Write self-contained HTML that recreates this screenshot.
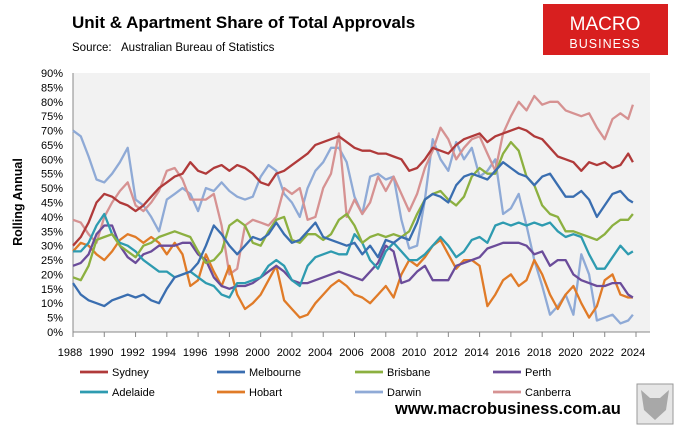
<!DOCTYPE html>
<html><head><meta charset="utf-8"><style>
body{margin:0;background:#fff;font-family:"Liberation Sans",sans-serif;}
#wrap{position:relative;width:677px;height:427px;overflow:hidden;}
</style></head><body>
<div id="wrap">
<svg id="chart" width="677" height="427" xmlns="http://www.w3.org/2000/svg">
  <text x="72" y="28" font-size="17" font-weight="bold" fill="#000">Unit &amp; Apartment Share of Total Approvals</text>
  <text x="72" y="51" font-size="11.5" fill="#000">Source:</text>
  <text x="121" y="51" font-size="11.5" fill="#000">Australian Bureau of Statistics</text>
  <g>
    <rect x="543" y="4" width="125" height="51" fill="#d81f1f"/>
    <text x="605" y="30" font-size="19" fill="#fff" text-anchor="middle">MACRO</text>
    <text x="605" y="48" font-size="12.5" fill="#fff" text-anchor="middle" letter-spacing="1">BUSINESS</text>
  </g>
  <rect x="73" y="73" width="577" height="259" fill="#f2f2f2"/>
  <text transform="translate(22,202) rotate(-90)" font-size="12.5" font-weight="bold" text-anchor="middle">Rolling Annual</text>
  <g id="yticks"></g><g id="xticks"></g><g id="series"></g><g id="legend"></g>
  <text x="395" y="414" font-size="16.5" font-weight="bold" fill="#000">www.macrobusiness.com.au</text>
  <g>
    <rect x="637" y="384" width="36" height="40" fill="#e6e6e6" stroke="#999"/>
    <path d="M641 390 L650 398 L660 398 L669 390 L666 410 L655 420 L644 410 Z" fill="#a8a8a8"/>
  </g>
</svg>
</div>
<script>
const seriesNames = ["Sydney","Melbourne","Brisbane","Perth","Adelaide","Hobart","Darwin","Canberra"];
const seriesColors = ["#b03a3a","#3a6eb0","#8cb040","#6b4c9a","#2e9bb0","#e07b28","#8faad6","#d69292"];
const yTickLabels = ["0%","5%","10%","15%","20%","25%","30%","35%","40%","45%","50%","55%","60%","65%","70%","75%","80%","85%","90%"];
const yTickValues = [0,5,10,15,20,25,30,35,40,45,50,55,60,65,70,75,80,85,90];
const xTickYears = [1988,1990,1992,1994,1996,1998,2000,2002,2004,2006,2008,2010,2012,2014,2016,2018,2020,2022,2024];
const startYear = 1988;
const endYear = 2023.8;
const sydney = [30,33,38,45,48,47,45,44,42,44,47,50,52,54,55,59,56,55,57,58,56,58,57,55,52,51,55,56,58,60,62,65,66,67,68,66,64,63,63,62,62,61,60,56,57,60,64,63,62,65,67,68,69,66,68,69,70,71,70,68,67,64,61,60,59,56,59,58,59,57,58,62,59];
const melbourne = [17,13,11,10,9,11,12,13,12,13,11,10,15,19,20,21,24,30,37,34,30,27,30,33,32,34,38,34,31,32,35,38,33,32,31,30,31,27,30,26,32,31,33,32,38,46,48,47,45,51,54,55,54,53,56,59,57,55,54,51,54,55,51,47,47,49,46,40,44,48,49,46,45];
const brisbane = [19,18,23,32,33,34,30,28,26,30,31,33,34,35,34,33,28,24,25,28,37,39,37,31,30,35,39,40,32,31,34,34,32,34,39,41,37,31,33,34,33,34,33,35,41,46,48,49,46,44,47,54,57,55,55,62,66,63,54,51,44,41,40,35,35,34,33,32,34,37,39,39,41];
const perth = [23,24,27,34,37,37,30,26,24,27,28,30,30,30,31,31,27,25,19,16,15,16,16,17,19,21,23,21,18,17,17,18,19,20,21,20,19,18,21,24,30,28,17,18,21,23,18,18,18,23,24,25,26,29,30,31,31,31,30,27,28,23,25,25,20,18,17,16,16,17,17,13,12];
const adelaide = [28,28,31,37,41,34,31,30,28,25,23,21,21,19,20,21,19,17,16,13,12,17,17,18,19,23,25,23,18,16,23,26,27,28,27,27,34,31,25,22,28,31,28,25,25,27,30,33,30,26,28,32,33,31,37,38,37,38,37,38,37,38,35,33,34,33,27,22,22,26,30,27,28];
const hobart = [28,31,30,27,25,28,32,34,33,31,33,31,27,31,27,16,18,27,21,16,23,13,8,10,13,18,23,11,8,5,6,10,13,16,18,16,13,12,10,13,16,12,20,25,23,26,30,32,27,22,25,25,23,9,13,18,20,16,18,25,20,13,8,13,16,10,5,9,18,20,13,12,12];
const darwin = [70,68,61,53,52,55,59,64,46,44,40,35,46,48,50,48,42,50,49,52,49,47,46,47,54,58,56,48,45,40,50,56,59,64,64,59,47,41,54,55,53,54,39,29,30,46,67,60,56,66,60,64,54,56,60,41,43,48,37,25,16,6,9,13,6,27,20,4,5,6,3,4,6];
const canberra = [39,38,34,31,40,45,49,52,44,42,45,49,56,57,53,46,46,46,48,37,20,22,37,39,38,37,40,50,48,50,39,40,50,55,69,40,46,41,45,54,49,54,48,42,48,57,63,71,67,60,64,67,68,62,56,69,75,80,77,82,79,80,80,77,76,75,76,71,67,74,76,74,79];
const allSeries = [sydney,melbourne,brisbane,perth,adelaide,hobart,darwin,canberra];

const NS = "http://www.w3.org/2000/svg";
const X0 = 73, X1 = 636, Y0 = 332, Y1 = 73;
function xScale(yr){ return X0 + (yr - 1988) / 36 * (X1 - X0); }
function yScale(v){ return Y0 - v / 90 * (Y0 - Y1); }
function yearAt(i, n){ return i === n - 1 ? endYear : startYear + i * 0.5; }
function mk(tag, attrs){ const e = document.createElementNS(NS, tag); for (const k in attrs) e.setAttribute(k, attrs[k]); return e; }

const yt = document.getElementById("yticks");
yTickValues.forEach((v, i) => {
  const t = mk("text", {x: 63, y: yScale(v) + 4, "font-size": 11, "text-anchor": "end", fill: "#000"});
  t.textContent = yTickLabels[i];
  
  
  yt.appendChild(t);
});
const axY = mk("line", {x1: X0, y1: Y1, x2: X0, y2: Y0, stroke: "#888", "stroke-width": 1});


yt.appendChild(axY);

const xt = document.getElementById("xticks");
const axX = mk("line", {x1: X0, y1: Y0, x2: 650, y2: Y0, stroke: "#888", "stroke-width": 1});


xt.appendChild(axX);
xTickYears.forEach(yr => {
  const tk = mk("line", {x1: xScale(yr), y1: Y0, x2: xScale(yr), y2: Y0 + 5, stroke: "#888"});
  
  
  xt.appendChild(tk);
  const t = mk("text", {x: xScale(yr) - 3, y: 356, "font-size": 11, "text-anchor": "middle"});
  t.textContent = yr;
  
  
  xt.appendChild(t);
});

const sg = document.getElementById("series");
const order = [6,7,5,3,4,2,1,0];
order.forEach(si => {
  const data = allSeries[si];
  const pts = data.map((v, i) => xScale(yearAt(i, data.length)).toFixed(1) + "," + yScale(v).toFixed(1)).join(" ");
  const pl = mk("polyline", {points: pts, fill: "none", stroke: seriesColors[si], "stroke-width": 2.3, "stroke-linejoin": "round"});
  
  
  sg.appendChild(pl);
});

const lg = document.getElementById("legend");
const colX = [80, 217, 355, 493];
seriesNames.forEach((n, i) => {
  const cx = colX[i % 4], cy = i < 4 ? 372 : 392;
  const g = mk("g", {});
  
  
  g.appendChild(mk("line", {x1: cx, y1: cy, x2: cx + 28, y2: cy, stroke: seriesColors[i], "stroke-width": 2.8}));
  const t = mk("text", {x: cx + 32, y: cy + 4, "font-size": 11});
  t.textContent = n;
  g.appendChild(t);
  lg.appendChild(g);
});
</script>
</body></html>
